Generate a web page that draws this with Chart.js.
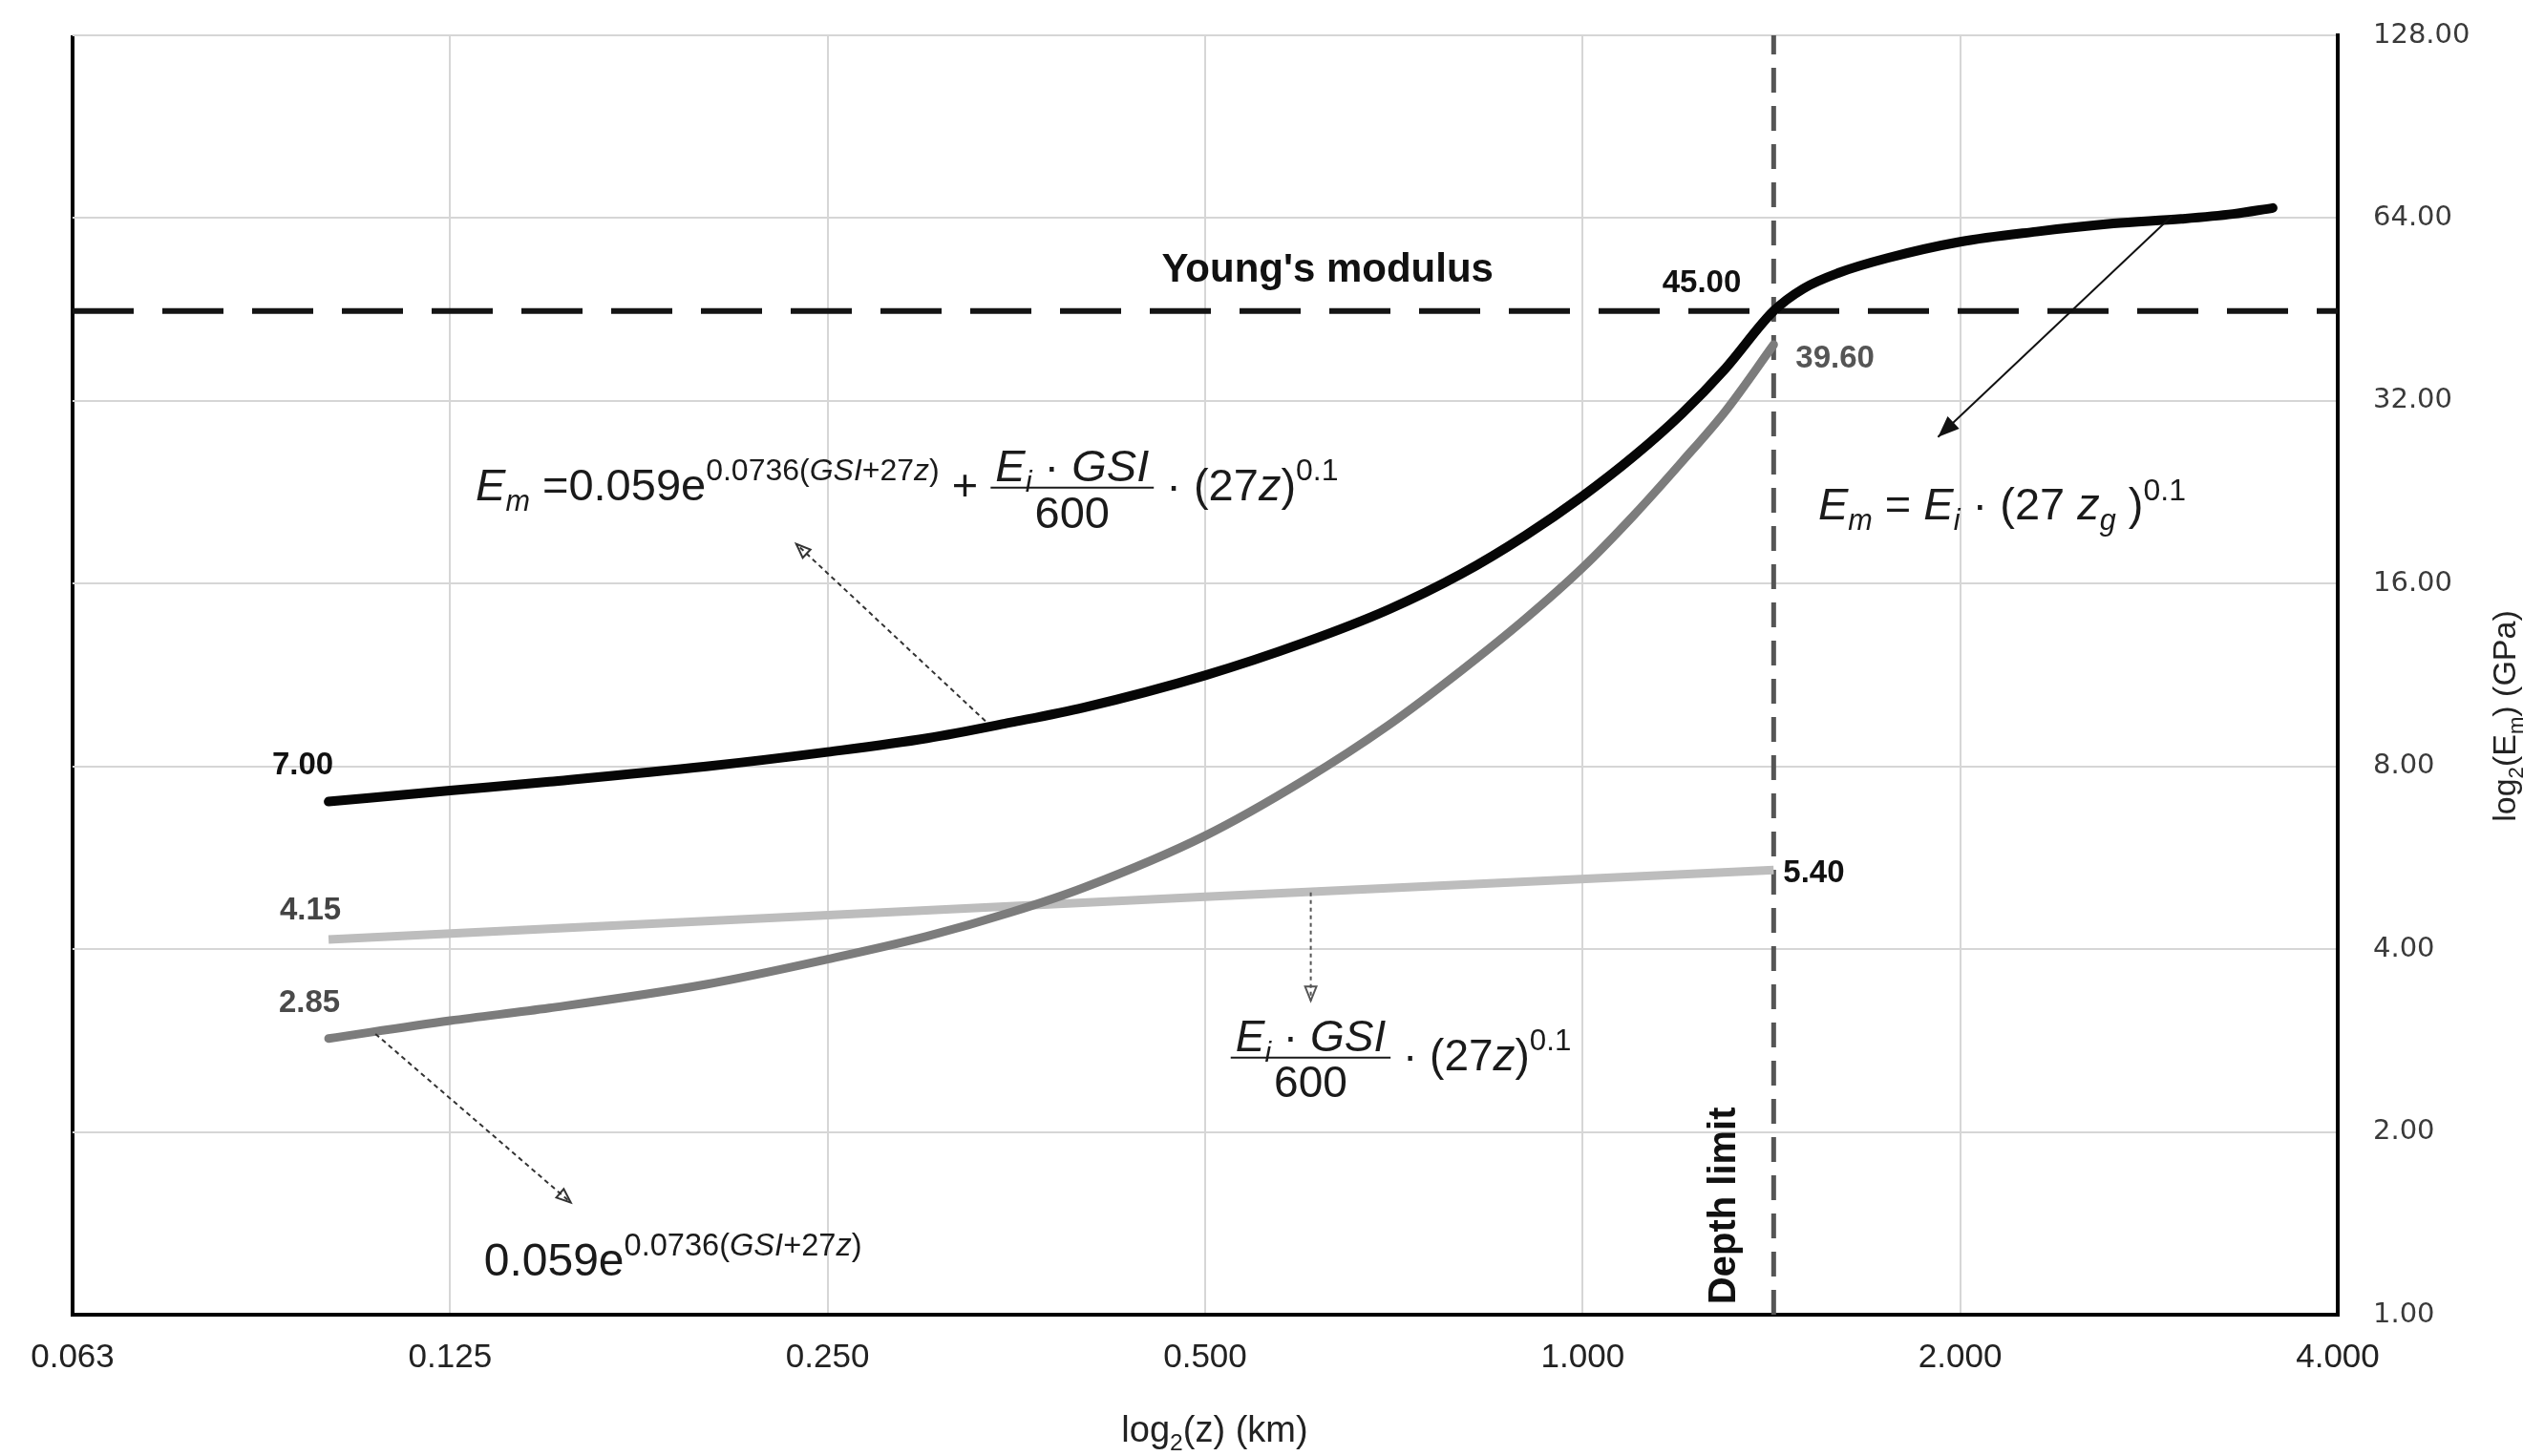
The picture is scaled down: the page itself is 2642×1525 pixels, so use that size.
<!DOCTYPE html>
<html>
<head>
<meta charset="utf-8">
<script src="https://cdn.jsdelivr.net/npm/chart.js@4.4.1/dist/chart.umd.min.js"></script>
<style>
  html, body { margin: 0; padding: 0; background: #fff; }
  #wrap { width: 2642px; height: 1525px; }
</style>
</head>
<body>
<div id="wrap"><canvas id="chart" width="2642" height="1525"></canvas></div>
<script>
// tick values
const xTicks = [0.0625, 0.125, 0.25, 0.5, 1, 2, 4];
const yTicks = [1, 2, 4, 8, 16, 32, 64, 128];

// Em total (black curve)
const zTotal = [0.1, 0.125, 0.15, 0.2, 0.25, 0.3, 0.35, 0.4, 0.5, 0.6, 0.7, 0.8, 0.9, 1.0, 1.1, 1.2, 1.3, 1.42,
                1.5, 1.6, 1.75, 2.0, 2.3, 2.65, 3.0, 3.3, 3.55];
const emTotal = [7.0, 7.3, 7.55, 8.0, 8.45, 8.9, 9.45, 10.0, 11.3, 12.8, 14.5, 16.6, 19.2, 22.3, 26.0, 30.5, 36.2, 45.0,
                 49.0, 52.0, 55.0, 58.5, 60.8, 62.7, 63.8, 65.0, 66.5];

// 0.059e^(0.0736(GSI+27z)) (dark grey curve)
const zExp = [0.1, 0.125, 0.15, 0.2, 0.25, 0.3, 0.35, 0.4, 0.5, 0.6, 0.7, 0.8, 0.9, 1.0, 1.1, 1.2, 1.3, 1.42];
const emExp = [2.85, 3.05, 3.2, 3.5, 3.85, 4.2, 4.6, 5.05, 6.15, 7.6, 9.35, 11.5, 14.0, 17.0, 20.8, 25.4, 30.8, 39.6];

// Ei*GSI/600*(27z)^0.1 (light grey line)
const zPower = [0.1, 0.5, 1.42];
const emPower = [4.15, 4.88, 5.40];

const youngModulus = 45;
const depthLimit = 1.42;

const FONT = '"Liberation Sans", Arial, sans-serif';

function toPoints(xs, ys) {
    return xs.map((x, i) => ({ x: x, y: ys[i] }));
}

// --- small helpers for the math labels ---
function runFont(r, base) {
    let size = base;
    if (r.sup) size = base * 0.68;
    if (r.sub) size = base * 0.65;
    return (r.it ? 'italic ' : '') + size.toFixed(1) + 'px ' + FONT;
}

function runShift(r, base) {
    if (r.sup) return -base * 0.44;
    if (r.sub) return base * 0.24;
    return 0;
}

function runsWidth(ctx, runs, base) {
    let w = 0;
    runs.forEach(r => {
        ctx.font = runFont(r, base);
        w += ctx.measureText(r.t).width;
    });
    return w;
}

function drawRuns(ctx, x, y, runs, base) {
    runs.forEach(r => {
        ctx.font = runFont(r, base);
        ctx.fillText(r.t, x, y + runShift(r, base));
        x += ctx.measureText(r.t).width;
    });
    return x;
}

function drawFormula(ctx, x, y, parts, base) {
    ctx.textAlign = 'left';
    ctx.textBaseline = 'alphabetic';
    parts.forEach(p => {
        if (p.num) {
            const wn = runsWidth(ctx, p.num, base);
            const wd = runsWidth(ctx, p.den, base);
            const w = Math.max(wn, wd) + 10;
            const barY = y - base * 0.28;
            drawRuns(ctx, x + (w - wn) / 2, barY - 7, p.num, base);
            drawRuns(ctx, x + (w - wd) / 2, barY + base * 0.9, p.den, base);
            ctx.save();
            ctx.lineWidth = 2;
            ctx.beginPath();
            ctx.moveTo(x, barY);
            ctx.lineTo(x + w, barY);
            ctx.stroke();
            ctx.restore();
            x += w;
        } else {
            x = drawRuns(ctx, x, y, [p], base);
        }
    });
    return x;
}

function drawArrow(ctx, x1, y1, x2, y2, opt) {
    ctx.save();
    ctx.strokeStyle = opt.color;
    ctx.fillStyle = opt.color;
    ctx.lineWidth = opt.width;
    ctx.setLineDash(opt.dash || []);
    ctx.beginPath();
    ctx.moveTo(x1, y1);
    ctx.lineTo(x2, y2);
    ctx.stroke();
    ctx.setLineDash([]);
    const ang = Math.atan2(y2 - y1, x2 - x1);
    const len = opt.head;
    const spread = 0.38;
    ctx.beginPath();
    ctx.moveTo(x2, y2);
    ctx.lineTo(x2 - len * Math.cos(ang - spread), y2 - len * Math.sin(ang - spread));
    ctx.lineTo(x2 - len * Math.cos(ang + spread), y2 - len * Math.sin(ang + spread));
    ctx.closePath();
    if (opt.fill) ctx.fill(); else ctx.stroke();
    ctx.restore();
}

const EiGSI = [{ t: 'E', it: 1 }, { t: 'i', it: 1, sub: 1 }, { t: ' · ' }, { t: 'GSI', it: 1 }];
const expSup = [{ t: '0.0736(', sup: 1 }, { t: 'GSI', it: 1, sup: 1 }, { t: '+27', sup: 1 }, { t: 'z', it: 1, sup: 1 }, { t: ')', sup: 1 }];
const powTail = [{ t: ' · (27' }, { t: 'z', it: 1 }, { t: ')' }, { t: '0.1', sup: 1 }];

const formulaTotal = [{ t: 'E', it: 1 }, { t: 'm', it: 1, sub: 1 }, { t: ' =0.059e' }]
    .concat(expSup, [{ t: ' + ' }, { num: EiGSI, den: [{ t: '600' }] }], powTail);
const formulaExp = [{ t: '0.059e' }].concat(expSup);
const formulaPow = [{ num: EiGSI, den: [{ t: '600' }] }].concat(powTail);
const formulaDeep = [{ t: 'E', it: 1 }, { t: 'm', it: 1, sub: 1 }, { t: ' = ' }, { t: 'E', it: 1 }, { t: 'i', it: 1, sub: 1 },
    { t: ' · (27 ' }, { t: 'z', it: 1 }, { t: 'g', it: 1, sub: 1 }, { t: ' )' }, { t: '0.1', sup: 1 }];

const annotations = {
    id: 'annotations',
    beforeDatasetsDraw(chart) {
        const { ctx, chartArea: a, scales: { x, y } } = chart;
        ctx.save();
        // Young's modulus line
        const yy = y.getPixelForValue(youngModulus);
        ctx.strokeStyle = '#141414';
        ctx.lineWidth = 6;
        ctx.setLineDash([64, 30]);
        ctx.beginPath();
        ctx.moveTo(a.left, yy);
        ctx.lineTo(a.right, yy);
        ctx.stroke();
        // depth limit line
        const xx = x.getPixelForValue(depthLimit);
        ctx.strokeStyle = '#555';
        ctx.lineWidth = 5;
        ctx.setLineDash([26, 14]);
        ctx.beginPath();
        ctx.moveTo(xx, a.bottom);
        ctx.lineTo(xx, a.top);
        ctx.stroke();
        ctx.restore();
    },
    afterDatasetsDraw(chart) {
        const { ctx, scales: { x, y } } = chart;
        const at = (z, e) => [x.getPixelForValue(z), y.getPixelForValue(e)];
        ctx.save();

        // value labels
        const label = (text, z, e, dx, dy, align, color) => {
            const p = at(z, e);
            ctx.font = 'bold 33px ' + FONT;
            ctx.fillStyle = color;
            ctx.textAlign = align;
            ctx.textBaseline = 'middle';
            ctx.fillText(text, p[0] + dx, p[1] + dy);
        };
        label('7.00', zTotal[0], emTotal[0], -27, -38, 'center', '#111');
        label('4.15', zPower[0], emPower[0], -19, -30, 'center', '#444');
        label('2.85', zExp[0], emExp[0], -20, -37, 'center', '#4a4a4a');
        label('45.00', depthLimit, youngModulus, -34, -29, 'right', '#111');
        label('39.60', depthLimit, emExp[emExp.length - 1], 23, 15, 'left', '#555');
        label('5.40', depthLimit, emPower[emPower.length - 1], 10, 4, 'left', '#111');

        // Young's modulus caption
        let p = at(0.626, 52.5);
        ctx.font = 'bold 42px ' + FONT;
        ctx.fillStyle = '#111';
        ctx.textAlign = 'center';
        ctx.textBaseline = 'middle';
        ctx.fillText("Young's modulus", p[0], p[1]);

        // Depth limit caption
        p = at(depthLimit, 1.04);
        ctx.save();
        ctx.translate(p[0] - 40, p[1]);
        ctx.rotate(-Math.PI / 2);
        ctx.font = 'bold 40px ' + FONT;
        ctx.textAlign = 'left';
        ctx.textBaseline = 'alphabetic';
        ctx.fillText('Depth limit', 0, 0);
        ctx.restore();

        // formulas
        ctx.fillStyle = '#1a1a1a';
        ctx.strokeStyle = '#1a1a1a';
        p = at(0.131, 21.96);
        drawFormula(ctx, p[0], p[1], formulaTotal, 47);
        p = at(0.133, 1.16);
        drawFormula(ctx, p[0], p[1], formulaExp, 48);
        p = at(0.524, 2.53);
        drawFormula(ctx, p[0], p[1], formulaPow, 46);
        p = at(1.541, 20.4);
        drawFormula(ctx, p[0], p[1], formulaDeep, 47);

        // arrows
        let a1 = at(0.334, 9.5), a2 = at(0.236, 18.6);
        drawArrow(ctx, a1[0], a1[1], a2[0], a2[1], { color: '#333', width: 2, dash: [5, 4], head: 16 });
        a1 = at(0.109, 2.9); a2 = at(0.156, 1.53);
        drawArrow(ctx, a1[0], a1[1], a2[0], a2[1], { color: '#333', width: 2, dash: [5, 4], head: 16 });
        a1 = at(0.607, 4.96); a2 = at(0.607, 3.29);
        drawArrow(ctx, a1[0], a1[1], a2[0], a2[1], { color: '#555', width: 2, dash: [4, 4], head: 16 });
        a1 = at(2.95, 64.5); a2 = at(1.92, 27.9);
        drawArrow(ctx, a1[0], a1[1], a2[0], a2[1], { color: '#111', width: 2, head: 24, fill: true });

        ctx.restore();
    },
    afterDraw(chart) {
        const { ctx, chartArea: a } = chart;
        ctx.save();
        ctx.fillStyle = '#222';
        ctx.textBaseline = 'alphabetic';
        // x title
        const xt = [{ t: 'log' }, { t: '2', sub: 1 }, { t: '(z) (km)' }];
        const wx = runsWidth(ctx, xt, 38);
        drawRuns(ctx, (a.left + a.right) / 2 + 10 - wx / 2, 1510, xt, 38);
        // y title
        const yt = [{ t: 'log' }, { t: '2', sub: 1 }, { t: '(E' }, { t: 'm', sub: 1 }, { t: ') (GPa)' }];
        const wy = runsWidth(ctx, yt, 34);
        ctx.translate(2634, 750);
        ctx.rotate(-Math.PI / 2);
        drawRuns(ctx, -wy / 2, 0, yt, 34);
        ctx.restore();
    }
};

const ctx = document.getElementById('chart').getContext('2d');
new Chart(ctx, {
    type: 'line',
    data: {
        datasets: [
            {
                label: 'Em',
                data: toPoints(zTotal, emTotal),
                borderColor: '#060606',
                borderWidth: 10,
                cubicInterpolationMode: 'monotone',
                borderCapStyle: 'round',
                pointRadius: 0
            },
            {
                label: '0.059e^0.0736(GSI+27z)',
                data: toPoints(zExp, emExp),
                borderColor: '#7c7c7c',
                borderWidth: 9,
                cubicInterpolationMode: 'monotone',
                borderCapStyle: 'round',
                pointRadius: 0
            },
            {
                label: 'Ei GSI/600 (27z)^0.1',
                data: toPoints(zPower, emPower),
                borderColor: '#bdbdbd',
                borderWidth: 9,
                tension: 0,
                pointRadius: 0
            }
        ]
    },
    options: {
        responsive: false,
        animation: false,
        devicePixelRatio: 1,
        layout: { padding: { left: 76, top: 37, right: 0, bottom: 0 } },
        plugins: {
            legend: { display: false },
            tooltip: { enabled: false }
        },
        scales: {
            x: {
                type: 'logarithmic',
                min: 0.0625,
                max: 4,
                afterBuildTicks: (scale) => { scale.ticks = xTicks.map(v => ({ value: v })); },
                afterFit: (scale) => {
                    scale.height = 148;
                    scale.paddingLeft = 0;
                    scale.paddingRight = 0;
                },
                ticks: {
                    callback: (v) => Number(v).toFixed(3),
                    font: { family: FONT, size: 35 },
                    color: '#222',
                    padding: 24,
                    maxRotation: 0,
                    autoSkip: false
                },
                grid: {
                    drawTicks: false,
                    color: (c) => c.index === 0 ? '#000' : '#d6d6d6',
                    lineWidth: (c) => c.index === 0 ? 4 : 2
                },
                border: { display: true, color: '#000', width: 4 }
            },
            y: {
                type: 'logarithmic',
                position: 'right',
                min: 1,
                max: 128,
                afterBuildTicks: (scale) => { scale.ticks = yTicks.map(v => ({ value: v })); },
                afterFit: (scale) => {
                    scale.width = 194;
                    scale.paddingTop = 0;
                    scale.paddingBottom = 0;
                },
                ticks: {
                    callback: (v) => Number(v).toFixed(2),
                    font: { family: '"DejaVu Sans", sans-serif', size: 29 },
                    color: '#3a3a3a',
                    padding: 37,
                    autoSkip: false
                },
                grid: {
                    drawTicks: false,
                    color: '#d6d6d6',
                    lineWidth: 2
                },
                border: { display: true, color: '#000', width: 4 }
            }
        }
    },
    plugins: [annotations]
});
</script>
</body>
</html>
